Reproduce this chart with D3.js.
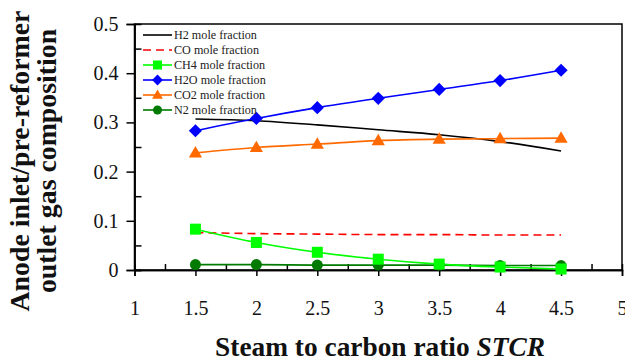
<!DOCTYPE html>
<html><head><meta charset="utf-8">
<script src="https://cdn.jsdelivr.net/npm/d3@7"></script>
<style>body{margin:0;background:#fff}svg{display:block}</style>
</head><body><svg id="c" width="625" height="362"></svg>
<script>
const stcr = [1.5, 2, 2.5, 3, 3.5, 4, 4.5];
const h2  = [0.307, 0.3035, 0.295, 0.285, 0.275, 0.261, 0.242];
const co  = [0.076, 0.074, 0.073, 0.072, 0.072, 0.071, 0.071];
const ch4 = [0.083, 0.056, 0.036, 0.022, 0.012, 0.006, 0.002];
const h2o = [0.283, 0.308, 0.330, 0.349, 0.367, 0.385, 0.406];
const co2 = [0.238, 0.249, 0.256, 0.263, 0.266, 0.267, 0.268];
const n2  = [0.011, 0.011, 0.010, 0.010, 0.010, 0.009, 0.009];
const xTicks = [1, 1.5, 2, 2.5, 3, 3.5, 4, 4.5, 5];
const yTicks = [0, 0.1, 0.2, 0.3, 0.4, 0.5];
const seriesNames = ["H2 mole fraction","CO mole fraction","CH4 mole fraction","H2O mole fraction","CO2 mole fraction","N2 mole fraction"];

const FONT = '"Liberation Serif","Times New Roman",serif';
const series = [
  {name: seriesNames[0], v: h2,  color: "#000000", marker: null,       dash: null},
  {name: seriesNames[1], v: co,  color: "#ff0000", marker: null,       dash: "8,5"},
  {name: seriesNames[2], v: ch4, color: "#00ff00", marker: "square",   dash: null},
  {name: seriesNames[3], v: h2o, color: "#0000ff", marker: "diamond",  dash: null},
  {name: seriesNames[4], v: co2, color: "#ff6a00", marker: "triangle", dash: null},
  {name: seriesNames[5], v: n2,  color: "#007a00", marker: "circle",   dash: null}
];

const svg = d3.select("#c");
const L = 134.5, R = 622, T = 24, B = 270;
const x = d3.scaleLinear().domain([1, 5]).range([L, R]);
const y = d3.scaleLinear().domain([0, 0.5]).range([B, T]);

svg.append("rect").attr("x", L).attr("y", T).attr("width", R - L).attr("height", B - T)
  .attr("fill", "none").attr("stroke", "#000").attr("stroke-width", 1.5);

svg.append("g").attr("transform", `translate(0,${B})`)
  .call(d3.axisBottom(x).tickValues(xTicks).tickSize(6).tickPadding(25).tickFormat(d3.format("")));
svg.append("g").attr("transform", `translate(0,${B})`)
  .call(d3.axisBottom(x).tickValues(d3.range(1.25, 5, 0.5)).tickSize(-6).tickFormat(""));
svg.append("g").attr("transform", `translate(${L},0)`)
  .call(d3.axisLeft(y).tickValues(yTicks).tickSize(8).tickPadding(8).tickFormat(d3.format("")));
svg.append("g").attr("transform", `translate(${L},0)`)
  .call(d3.axisLeft(y).tickValues([0, 0.05, 0.15, 0.25, 0.35, 0.45]).tickSize(-7).tickFormat(""));
svg.selectAll(".domain").attr("stroke", "#000").attr("stroke-width", 1.5);
svg.selectAll(".tick line").attr("stroke", "#000").attr("stroke-width", 1.5);
svg.selectAll(".tick text").attr("font-size", 20).attr("fill", "#111")
  .attr("font-family", FONT).style("font-family", FONT);

function fit(t, target) {
  const w = t.node().getComputedTextLength();
  const fs = +t.attr("font-size");
  t.attr("font-size", (fs * target / w).toFixed(2));
}

const xt = svg.append("text").attr("x", 380).attr("y", 355.5).attr("text-anchor", "middle")
  .attr("font-size", 23).attr("font-weight", "bold").attr("font-family", FONT).attr("fill", "#111");
xt.append("tspan").text("Steam to carbon ratio ");
xt.append("tspan").attr("font-style", "italic").text("STCR");
fit(xt, 330);

const yt1 = svg.append("text").attr("transform", "translate(28.5,161) rotate(-90)")
  .attr("text-anchor", "middle").attr("font-size", 23).attr("font-weight", "bold")
  .attr("font-family", FONT).attr("fill", "#111").text("Anode inlet/pre-reformer");
fit(yt1, 301);
const yt2 = svg.append("text").attr("transform", "translate(55.5,161) rotate(-90)")
  .attr("text-anchor", "middle").attr("font-size", +yt1.attr("font-size")).attr("font-weight", "bold")
  .attr("font-family", FONT).attr("fill", "#111").text("outlet gas composition");

function drawMarker(g, type, color, cx, cy, s) {
  if (type === "square") g.append("rect").attr("x", cx - s/2).attr("y", cy - s/2).attr("width", s).attr("height", s).attr("fill", color);
  else if (type === "diamond") g.append("path").attr("d", `M${cx},${cy - s*0.6}L${cx + s*0.6},${cy}L${cx},${cy + s*0.6}L${cx - s*0.6},${cy}Z`).attr("fill", color);
  else if (type === "triangle") g.append("path").attr("d", `M${cx},${cy - s*0.62}L${cx + s*0.6},${cy + s*0.42}L${cx - s*0.6},${cy + s*0.42}Z`).attr("fill", color);
  else if (type === "circle") g.append("circle").attr("cx", cx).attr("cy", cy).attr("r", s/2).attr("fill", color);
}

const line = d3.line().x((d, i) => x(stcr[i])).y(d => y(d)).curve(d3.curveMonotoneX);
const plot = svg.append("g");
const order = [5, 0, 1, 2, 4, 3];
order.forEach(k => {
  const s = series[k];
  plot.append("path").attr("d", line(s.v)).attr("fill", "none").attr("stroke", s.color)
    .attr("stroke-width", 1.6).attr("stroke-dasharray", s.dash);
});
order.forEach(k => {
  const s = series[k];
  if (s.marker) s.v.forEach((d, i) => drawMarker(plot, s.marker, s.color, x(stcr[i]), y(d), 11));
});

const lg = svg.append("g");
series.forEach((s, i) => {
  const ly = 35 + i * 15;
  lg.append("line").attr("x1", 143).attr("x2", 172).attr("y1", ly).attr("y2", ly)
    .attr("stroke", s.color).attr("stroke-width", 1.6).attr("stroke-dasharray", s.dash);
  if (s.marker) drawMarker(lg, s.marker, s.color, 157.5, ly, 9);
  const t = lg.append("text").attr("x", 174).attr("y", ly + 4).attr("font-size", 12)
    .attr("font-family", FONT).attr("fill", "#222").text(s.name);
  if (i === 0) fit(t, 83);
  else t.attr("font-size", lg.select("text").attr("font-size"));
});
</script></body></html>
